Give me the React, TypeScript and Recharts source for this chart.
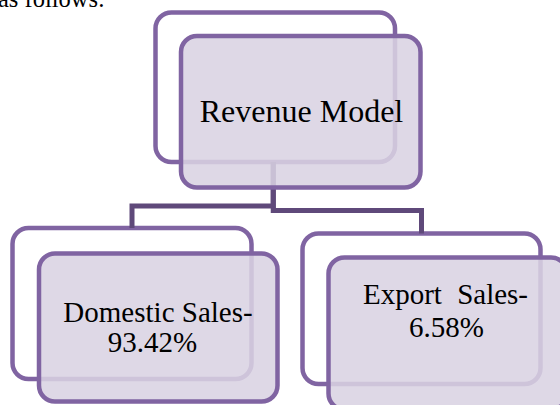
import React from "react";
import { Surface, Layer, Rectangle, Curve, Text } from "recharts";

// ---- content ----
const LEAD_TEXT = "as follows:";
const ROOT_LABEL = "Revenue Model";
const CHILD_NAMES = ["Domestic Sales-", "Export Sales-"];
const CHILD_SHARES = [93.42, 6.58];
const SHARE_SUFFIX = "%";

// ---- styles ----
const BORDER = "#8064a2";
const CONNECTOR = "#5f497a";
const FRONT_FILL = "#d9d2e2";
const FONT = "'Liberation Serif', 'Times New Roman', serif";

const W = 560;
const H = 405;

type Box = { x: number; y: number; w: number; h: number };

const rootBack: Box = { x: 155.5, y: 12.5, w: 239.5, h: 149.5 };
const rootFront: Box = { x: 181, y: 36, w: 239.5, h: 151.5 };
const childBack: Box[] = [
  { x: 12.5, y: 228, w: 239, h: 151 },
  { x: 302.5, y: 233.5, w: 238, h: 150.5 },
];
const childFront: Box[] = [
  { x: 39, y: 253.5, w: 238.5, h: 148 },
  { x: 328.5, y: 257.5, w: 238.5, h: 152 },
];
const elbowY = [206, 210.5];

function BackBox({ b }: { b: Box }) {
  return (
    <Rectangle
      x={b.x}
      y={b.y}
      width={b.w}
      height={b.h}
      radius={16}
      fill="#ffffff"
      stroke={BORDER}
      strokeWidth={4.5}
    />
  );
}

function FrontBox({ b }: { b: Box }) {
  return (
    <Rectangle
      x={b.x}
      y={b.y}
      width={b.w}
      height={b.h}
      radius={16}
      fill={FRONT_FILL}
      fillOpacity={0.87}
      stroke={BORDER}
      strokeWidth={4.5}
    />
  );
}

export default function App() {
  const rootCx = rootBack.x + rootBack.w / 2 - 2;
  const connectors = childBack.map((b, i) => [
    { x: rootCx, y: rootBack.y + rootBack.h },
    { x: rootCx, y: elbowY[i] },
    { x: b.x + b.w / 2, y: elbowY[i] },
    { x: b.x + b.w / 2, y: b.y },
  ]);
  const shareText = CHILD_SHARES.map((v) => v.toFixed(2) + SHARE_SUFFIX);
  const [exportWord, salesWord] = CHILD_NAMES[1].split(" ");

  return (
    <div style={{ position: "absolute", left: 0, top: 0, width: W, height: H, background: "#fff" }}>
      <Surface width={W} height={H} viewBox={{ x: 0, y: 0, width: W, height: H }}>
        <Layer>
          <Text x={-2} y={7} textAnchor="start" fontFamily={FONT} fontSize={24.5} fill="#000">
            {LEAD_TEXT}
          </Text>
        </Layer>
        <Layer>
          <BackBox b={rootBack} />
          {childBack.map((b, i) => (
            <BackBox key={i} b={b} />
          ))}
        </Layer>
        <Layer>
          {connectors.map((pts, i) => (
            <Curve
              key={i}
              type="linear"
              points={pts}
              stroke={CONNECTOR}
              strokeWidth={5}
              fill="none"
              strokeLinejoin="miter"
            />
          ))}
        </Layer>
        <Layer>
          <FrontBox b={rootFront} />
          {childFront.map((b, i) => (
            <FrontBox key={i} b={b} />
          ))}
        </Layer>
        <Layer>
          <Text x={301.5} y={121.5} textAnchor="middle" fontFamily={FONT} fontSize={32} fill="#000">
            {ROOT_LABEL}
          </Text>
          <Text x={158} y={321.5} textAnchor="middle" fontFamily={FONT} fontSize={29} fill="#000">
            {CHILD_NAMES[0]}
          </Text>
          <Text x={152.5} y={351.5} textAnchor="middle" fontFamily={FONT} fontSize={29} fill="#000">
            {shareText[0]}
          </Text>
          <Text x={363} y={303.5} textAnchor="start" fontFamily={FONT} fontSize={29} fill="#000">
            {exportWord}
          </Text>
          <Text x={528} y={303.5} textAnchor="end" fontFamily={FONT} fontSize={29} fill="#000">
            {salesWord}
          </Text>
          <Text x={446.5} y={336.5} textAnchor="middle" fontFamily={FONT} fontSize={29} fill="#000">
            {shareText[1]}
          </Text>
        </Layer>
      </Surface>
    </div>
  );
}
